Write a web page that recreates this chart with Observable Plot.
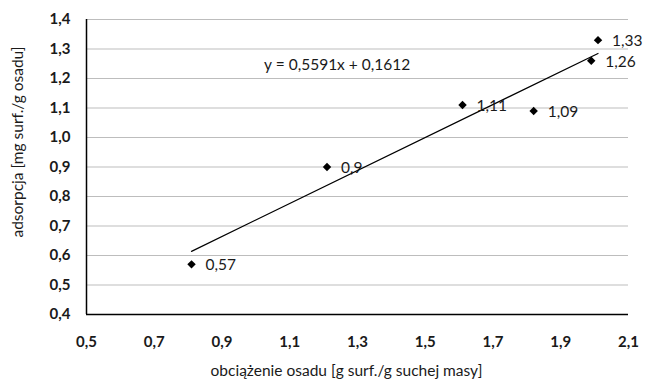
<!DOCTYPE html>
<html><head><meta charset="utf-8">
<script src="https://cdn.jsdelivr.net/npm/d3@7"></script>
<script src="https://cdn.jsdelivr.net/npm/@observablehq/plot@0.6"></script>
<style>
html,body{margin:0;padding:0;background:#fff;}
svg{font-family:Lato, "Open Sans", sans-serif;}
</style></head>
<body><div id="chart"></div>
<script>
const loads = [0.81, 1.21, 1.61, 1.82, 1.99, 2.01];
const adsorption = [0.57, 0.90, 1.11, 1.09, 1.26, 1.33];
const pointLabels = ["0,57", "0,9", "1,11", "1,09", "1,26", "1,33"];
const slope = 0.5591, intercept = 0.1612;
const equationText = "y = 0,5591x + 0,1612";
const xTicks = [0.5, 0.7, 0.9, 1.1, 1.3, 1.5, 1.7, 1.9, 2.1];
const yTicks = [0.4, 0.5, 0.6, 0.7, 0.8, 0.9, 1.0, 1.1, 1.2, 1.3, 1.4];
const xTitle = "obciążenie osadu [g surf./g suchej masy]";
const yTitle = "adsorpcja [mg surf./g osadu]";

const pts = loads.map((x, i) => ({x, y: adsorption[i], label: pointLabels[i]}));
const xMin = d3.min(loads), xMax = d3.max(loads);
const trend = [xMin, xMax].map(x => ({x, y: slope * x + intercept}));
const fmt = d => d.toFixed(1).replace(".", ",");

const chart = Plot.plot({
  width: 647, height: 381,
  marginLeft: 86, marginRight: 19, marginTop: 19, marginBottom: 67,
  x: {domain: [0.5, 2.1]},
  y: {domain: [0.4, 1.4]},
  marks: [
    Plot.gridY(yTicks, {stroke: "#bdbdbd", strokeOpacity: 1, strokeWidth: 1}),
    Plot.axisY(yTicks, {tickSize: 0, tickPadding: 16, tickFormat: fmt, label: null, fontSize: 15, fontWeight: "bold", fill: "#1a1a1a"}),
    Plot.axisX(xTicks, {tickSize: 0, tickPadding: 22, tickFormat: fmt, label: null, fontSize: 15, fontWeight: "bold", fill: "#1a1a1a"}),
    Plot.ruleX([0.5], {stroke: "#000", strokeWidth: 1.5}),
    Plot.ruleY([0.4], {stroke: "#000", strokeWidth: 1.5}),
    Plot.line(trend, {x: "x", y: "y", stroke: "#000", strokeWidth: 1.2}),
    Plot.dot(pts, {x: "x", y: "y", symbol: "diamond2", r: 3.8, fill: "#000", stroke: "none"}),
    Plot.text(pts, {x: "x", y: "y", text: "label", dx: 14, dy: 1, textAnchor: "start", fontSize: 15.5, fill: "#1a1a1a"}),
    Plot.text([equationText], {x: 1.24, y: 1.244, text: d => d, fontSize: 15.5, fill: "#1a1a1a", textAnchor: "middle"}),
    Plot.text([xTitle], {frameAnchor: "bottom", lineAnchor: "middle", textAnchor: "middle", dy: 57, dx: -11, text: d => d, fontSize: 15.5, fill: "#1a1a1a"}),
    Plot.text([yTitle], {frameAnchor: "left", rotate: -90, textAnchor: "middle", lineAnchor: "middle", dx: -68, dy: -25, text: d => d, fontSize: 15.5, fill: "#1a1a1a"})
  ]
});
document.getElementById("chart").appendChild(chart);
</script></body></html>
